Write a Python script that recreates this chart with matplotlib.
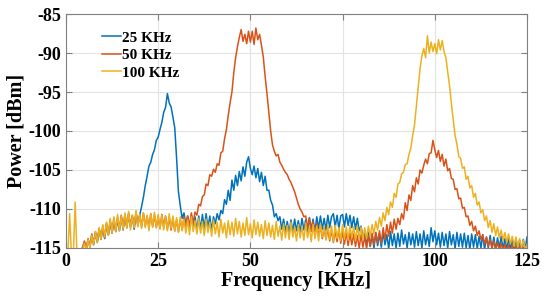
import numpy as np
import matplotlib
matplotlib.use('Agg')
import matplotlib.pyplot as plt

plt.rcParams['font.family'] = ['Liberation Serif', 'DejaVu Serif']
plt.rcParams['font.weight'] = 'bold'
plt.rcParams['axes.unicode_minus'] = False

freq = np.linspace(0, 125, 251)

p25 = [
    -116, -116, -116, -116, -116, -116, -116, -116, -115.4, -115.0,
    -114.3, -115.2, -113.9, -114.8, -113.4, -114.6, -113.1, -114.3, -112.6, -113.9,
    -112.4, -113.8, -112.0, -113.3, -111.7, -113.1, -111.5, -112.9, -111.3, -112.8,
    -111.0, -112.7, -110.8, -112.4, -110.7, -112.3, -111.0, -112.6, -110.5, -112.1,
    -110.8, -109.7, -108.5, -107.0, -105.8, -104.5, -104.0, -103.0, -102.4, -101.2,
    -100.8, -99.8, -98.9, -97.6, -97.0, -95.2, -96.4, -96.9, -98.2, -99.6,
    -103.5, -107.8, -109.6, -111.2, -110.5, -112.0, -110.9, -112.3, -110.8, -112.4,
    -111.0, -112.8, -110.9, -112.6, -110.7, -112.5, -110.6, -112.4, -110.9, -112.8,
    -111.0, -111.9, -110.6, -111.4, -110.2, -110.6, -108.8, -109.4, -107.6, -108.9,
    -106.3, -107.6, -105.7, -107.0, -105.2, -106.4, -104.6, -105.8, -104.0, -103.3,
    -104.8, -105.6, -104.5, -106.0, -104.8, -106.5, -105.3, -107.0, -105.8, -107.6,
    -107.6, -108.9, -109.5, -111.0, -110.6, -111.5, -111.0, -112.6, -111.3, -112.9,
    -111.6, -113.1, -111.4, -112.9, -111.3, -112.8, -111.5, -113.0, -111.2, -112.7,
    -111.4, -112.9, -111.1, -112.6, -111.3, -113.0, -111.0, -112.5, -110.9, -112.6,
    -111.2, -112.7, -110.8, -112.4, -111.0, -110.6, -112.3, -110.8, -112.5, -110.9,
    -110.7, -112.3, -110.6, -112.1, -110.8, -112.4, -111.0, -112.6, -111.2, -112.8,
    -112.2, -113.6, -113.2, -114.7, -113.0, -114.8, -113.3, -115.0, -113.1, -114.7,
    -113.2, -114.9, -113.0, -114.6, -113.3, -115.1, -112.9, -114.7, -113.2, -115.0,
    -113.1, -114.8, -112.7, -114.5, -113.3, -115.0, -113.0, -114.6, -113.2, -114.9,
    -112.9, -114.7, -113.2, -115.0, -112.8, -114.6, -113.3, -114.8, -112.4, -114.2,
    -112.8, -114.6, -113.1, -114.9, -113.0, -114.7, -113.2, -115.0, -112.9, -114.6,
    -113.3, -115.1, -113.0, -114.8, -113.2, -114.9, -113.1, -115.0, -113.4, -115.2,
    -113.2, -114.9, -113.3, -115.1, -113.5, -115.0, -113.3, -115.2, -113.6, -115.0,
    -113.4, -115.1, -113.6, -115.3, -113.7, -115.0, -113.5, -115.2, -113.8, -115.3,
    -113.7, -115.2, -113.9, -115.4, -113.8, -115.3, -114.0, -115.5, -113.9, -115.2,
    -113.6,
]

p50 = [
    -116, -116, -116, -116, -116, -116, -116, -116, -115.5, -114.9,
    -114.1, -115.1, -113.8, -114.9, -113.2, -114.4, -112.9, -114.1, -112.5, -113.8,
    -112.2, -113.7, -111.8, -113.3, -111.5, -113.0, -111.2, -112.8, -111.0, -112.6,
    -110.8, -112.5, -110.7, -112.3, -110.5, -112.2, -110.8, -112.4, -110.4, -112.1,
    -110.7, -112.3, -110.5, -112.2, -110.9, -112.4, -110.6, -112.3, -110.8, -112.4,
    -111.0, -112.5, -110.7, -112.3, -110.9, -112.6, -111.1, -112.7, -111.2, -112.8,
    -111.4, -112.9, -111.3, -112.7, -111.0, -112.4, -110.9, -112.2, -110.5, -111.8,
    -110.4, -110.8, -109.4, -109.6, -108.4, -108.2, -106.8, -107.0, -105.6, -105.8,
    -104.9, -105.3, -104.2, -104.4, -102.8, -102.6, -101.0, -99.8, -98.0, -96.4,
    -95.0, -92.5, -90.6, -89.2, -88.0, -87.0, -88.5, -87.6, -88.8, -87.2,
    -88.6, -87.2, -88.9, -86.8, -88.3, -87.6, -89.0, -90.5, -93.0, -95.2,
    -97.6, -100.0, -101.8, -102.6, -103.2, -103.0, -104.0, -104.4, -104.9, -105.3,
    -105.6, -106.2, -106.6, -107.2, -107.8, -108.6, -109.4, -110.0, -110.4, -111.0,
    -110.9, -112.4, -111.2, -112.9, -111.6, -113.3, -111.9, -113.5, -112.2, -113.8,
    -112.4, -113.9, -112.5, -114.1, -112.7, -114.3, -112.8, -114.2, -112.6, -114.4,
    -112.9, -114.5, -113.0, -114.7, -113.1, -114.6, -113.2, -114.8, -113.4, -115.0,
    -113.3, -114.9, -113.5, -115.1, -113.4, -114.8, -113.1, -114.6, -113.0, -114.3,
    -112.8, -114.4, -112.4, -113.9, -112.0, -113.5, -111.7, -113.1, -111.3, -112.6,
    -111.2, -112.0, -110.6, -111.3, -109.2, -110.2, -108.2, -108.9, -107.0, -107.8,
    -106.0, -106.8, -105.0, -105.4, -104.4, -103.6, -104.2, -102.9, -102.8, -101.2,
    -102.4, -103.4, -102.5, -103.9, -103.0, -104.5, -103.6, -105.1, -104.8, -106.1,
    -106.2, -107.5, -107.4, -108.7, -108.6, -109.9, -109.8, -111.0, -110.9, -112.1,
    -111.6, -112.8, -112.2, -113.4, -112.8, -113.9, -113.3, -114.5, -113.6, -114.8,
    -113.9, -115.0, -114.1, -115.2, -114.3, -115.3, -114.4, -115.4, -114.5, -115.4,
    -114.6, -115.4, -114.7, -115.5, -114.6, -115.4, -114.8, -115.6, -114.9, -115.5,
    -115.2,
]

p100 = [
    -116, -116, -110.6, -116, -116, -109.1, -116, -116, -115.7, -115.2,
    -114.4, -115.3, -113.9, -115.0, -113.4, -114.6, -112.9, -114.3, -112.4, -113.9,
    -112.0, -113.6, -111.7, -113.4, -111.2, -113.1, -111.0, -112.9, -110.7, -112.8,
    -110.9, -112.6, -110.5, -112.5, -110.3, -112.7, -110.8, -112.4, -110.2, -112.3,
    -110.7, -112.5, -110.5, -112.4, -110.8, -112.8, -110.6, -112.3, -110.4, -112.4,
    -110.7, -112.6, -110.8, -112.7, -111.0, -112.8, -110.6, -112.5, -110.9, -112.9,
    -111.1, -113.0, -111.0, -112.8, -111.3, -113.1, -111.4, -113.3, -111.0, -112.9,
    -111.5, -113.2, -111.2, -113.1, -111.6, -113.4, -111.3, -113.0, -111.7, -113.5,
    -111.4, -113.2, -111.7, -113.6, -111.3, -113.1, -111.8, -113.7, -111.5, -113.3,
    -111.7, -113.5, -111.2, -113.2, -111.6, -113.6, -111.8, -113.4, -111.1, -113.3,
    -111.9, -113.7, -111.4, -113.3, -111.7, -113.5, -112.0, -113.8, -111.5, -113.4,
    -111.8, -113.6, -112.1, -113.9, -111.6, -113.5, -112.2, -114.0, -111.9, -113.7,
    -112.1, -113.9, -111.7, -113.6, -112.3, -114.1, -112.0, -113.7, -112.2, -114.0,
    -111.8, -113.7, -112.3, -114.2, -112.0, -113.8, -112.2, -114.1, -111.9, -113.6,
    -112.3, -114.0, -112.0, -113.9, -112.2, -114.2, -112.1, -113.8, -112.4, -114.1,
    -112.0, -113.9, -112.3, -114.0, -112.1, -113.7, -112.3, -114.1, -112.2, -113.8,
    -112.3, -113.9, -112.4, -113.8, -112.2, -113.5, -112.0, -113.2, -111.6, -112.7,
    -111.1, -112.2, -110.5, -111.5, -109.8, -110.7, -109.1, -109.8, -108.0, -108.5,
    -106.8, -106.6, -105.5, -105.3, -104.3, -104.2, -103.0, -102.2, -100.6, -99.2,
    -96.8, -94.4, -92.0, -90.4, -89.4, -90.6, -87.8, -90.0, -88.6, -89.8,
    -88.8, -90.1, -88.3, -89.6, -88.4, -89.8, -90.6, -92.4, -94.2, -96.5,
    -98.6, -100.6, -101.7, -103.3, -103.5, -104.8, -104.6, -106.2, -105.8, -107.3,
    -107.0, -108.5, -108.0, -109.5, -109.1, -110.5, -110.1, -111.5, -110.9, -112.4,
    -111.5, -113.0, -111.9, -113.4, -112.3, -113.7, -112.7, -114.1, -113.0, -114.3,
    -113.2, -114.5, -113.5, -114.8, -113.6, -114.9, -113.8, -115.0, -114.0, -115.1,
    -114.7,
]

labels = ['25 KHz', '50 KHz', '100 KHz']
colors = ['#0072BD', '#D95319', '#EDB120']

fig = plt.figure(figsize=(5.45, 3.05), dpi=100)
ax = fig.add_axes([0.121, 0.187, 0.846, 0.767])

for y, lab, c in zip([p25, p50, p100], labels, colors):
    ax.plot(freq, y, color=c, lw=1.1, label=lab)

ax.set_xlim(0, 125)
ax.set_ylim(-115, -85)
ax.set_xticks([0, 25, 50, 75, 100, 125])
ax.set_yticks(np.arange(-115, -84, 5))
ax.grid(True, color='#e3e3e3', lw=0.8)
ax.set_axisbelow(True)
for s in ax.spines.values():
    s.set_color('#808080')
    s.set_linewidth(0.8)
ax.tick_params(direction='in', top=True, right=True, length=4,
               color='#808080', labelsize=13, pad=3.5)
for t in ax.get_xticklabels() + ax.get_yticklabels():
    t.set_fontweight('bold')

ax.set_xlabel('Frequency [KHz]', fontsize=14.5, fontweight='bold', labelpad=1)
ax.set_ylabel('Power [dBm]', fontsize=14.5, fontweight='bold', labelpad=1)

leg = ax.legend(loc='upper left', bbox_to_anchor=(0.058, 0.967), frameon=False,
                fontsize=11, handlelength=1.25, handletextpad=0.1,
                labelspacing=0.25, borderaxespad=0.2)
for t in leg.get_texts():
    t.set_fontweight('bold')

plt.savefig('out.png', dpi=100)
